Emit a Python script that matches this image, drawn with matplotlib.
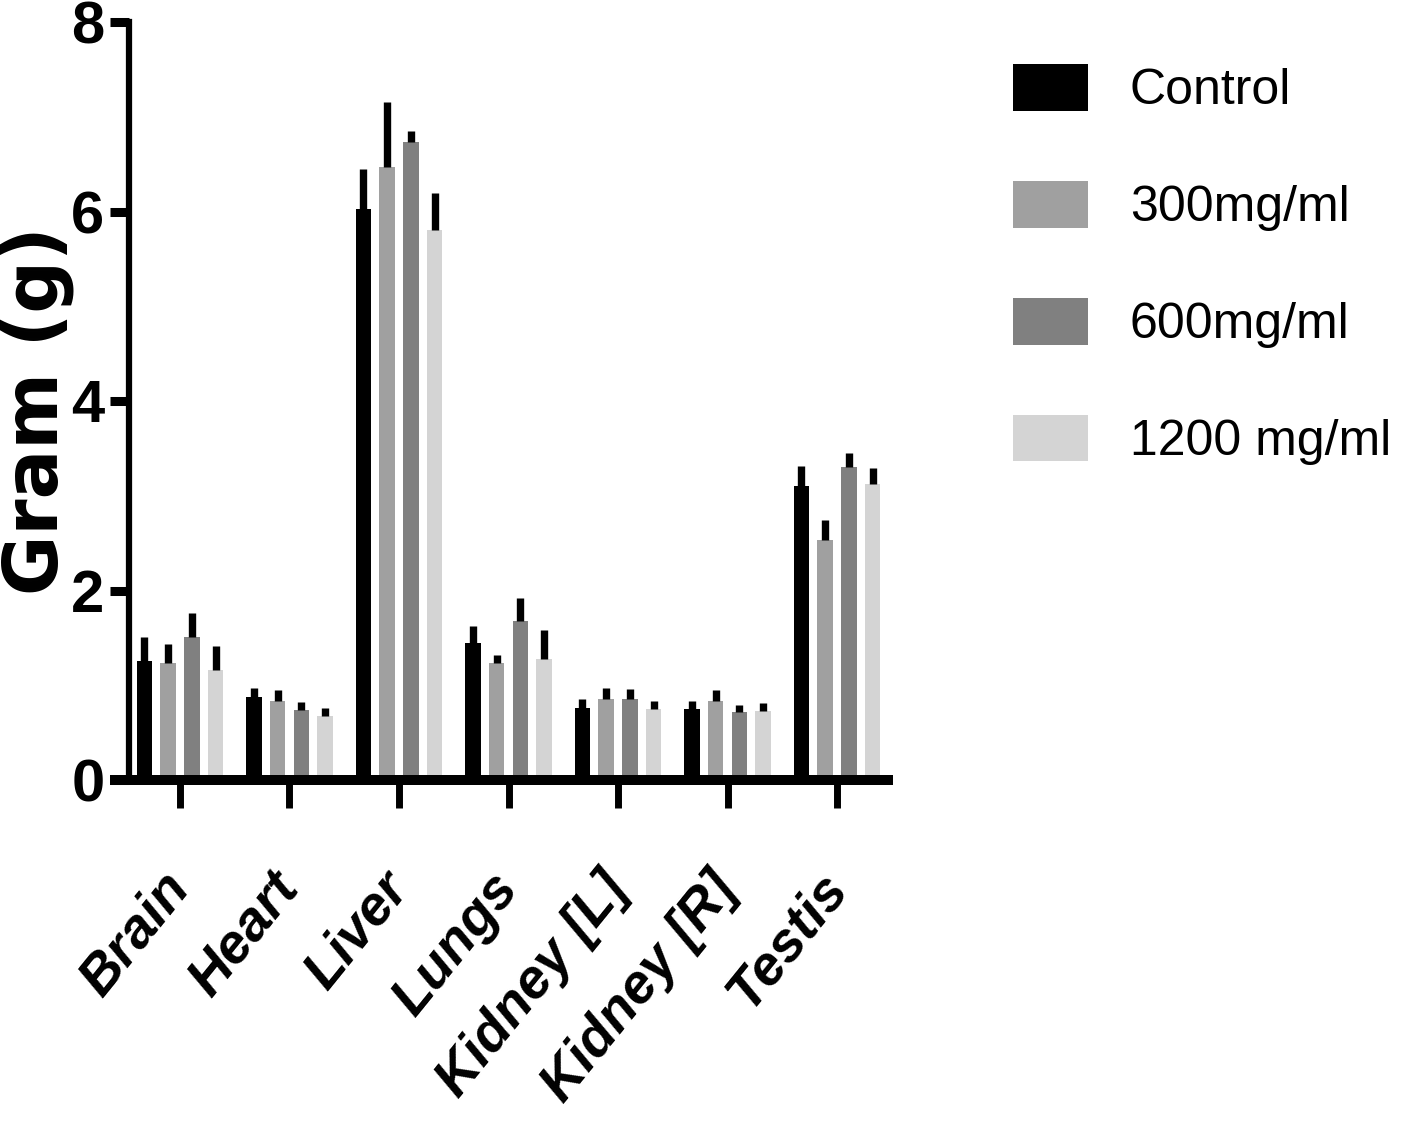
import matplotlib
matplotlib.use('Agg')
import matplotlib.pyplot as plt
from matplotlib import font_manager
import numpy as np

# Organ weights (g), mean bars with upper error bars
organs = ['Brain', 'Heart', 'Liver', 'Lungs', 'Kidney [L]', 'Kidney [R]', 'Testis']
groups = ['Control', '300mg/ml', '600mg/ml', '1200 mg/ml']

control = [1.26, 0.88, 6.03, 1.45, 0.76, 0.75, 3.10]
dose_300 = [1.23, 0.83, 6.47, 1.23, 0.85, 0.83, 2.53]
dose_600 = [1.51, 0.74, 6.73, 1.68, 0.85, 0.72, 3.30]
dose_1200 = [1.16, 0.68, 5.80, 1.28, 0.75, 0.73, 3.12]

control_err = [0.25, 0.09, 0.42, 0.18, 0.09, 0.08, 0.21]
dose_300_err = [0.21, 0.12, 0.69, 0.09, 0.12, 0.12, 0.21]
dose_600_err = [0.25, 0.08, 0.12, 0.24, 0.11, 0.07, 0.15]
dose_1200_err = [0.25, 0.08, 0.39, 0.30, 0.08, 0.08, 0.17]

colors = ['#000000', '#a0a0a0', '#808080', '#d4d4d4']


def pick_narrow():
    """Use the narrow Liberation face if it is installed."""
    names = {f.name for f in font_manager.fontManager.ttflist}
    if 'Liberation Sans Narrow' in names:
        return 'Liberation Sans Narrow', True
    return 'Liberation Sans', False


def create_chart():
    narrow, has_narrow = pick_narrow()

    fig = plt.figure(figsize=(14.18, 11.23), dpi=100)
    ax = fig.add_axes([110 / 1418, 1 - 780 / 1123, 783 / 1418, 758 / 1123])

    series = [control, dose_300, dose_600, dose_1200]
    errors = [control_err, dose_300_err, dose_600_err, dose_1200_err]
    x = np.arange(len(organs))
    step = 0.2164
    width = 0.1416

    for i, (vals, errs) in enumerate(zip(series, errors)):
        pos = x + (i - 1.5) * step
        ax.bar(pos, vals, width=width, color=colors[i], label=groups[i], zorder=2)
        ax.errorbar(pos, vals, yerr=[np.zeros(len(vals)), errs], fmt='none',
                    ecolor='black', elinewidth=5.3, capsize=0, zorder=3)

    ax.set_xlim(-0.639, 6.511)
    ax.set_ylim(0, 8)
    ax.set_yticks([0, 2, 4, 6, 8])

    for side in ['top', 'right']:
        ax.spines[side].set_visible(False)
    ax.spines['left'].set_position(('axes', 0.0243))
    ax.spines['left'].set_linewidth(4.5)
    ax.spines['left'].set_capstyle('projecting')
    ax.spines['bottom'].set_linewidth(7.2)
    ax.spines['bottom'].set_capstyle('butt')
    ax.spines['left'].set_zorder(4)
    ax.spines['bottom'].set_zorder(4)

    ax.tick_params(axis='y', direction='out', length=13.7, width=6.5, pad=4)
    ax.tick_params(axis='x', direction='out', length=20, width=5, pad=52)

    tick_size = 48 if has_narrow else 43
    for lab in ax.get_yticklabels():
        lab.set_fontfamily(narrow)
        lab.set_fontweight('bold')
        lab.set_fontsize(tick_size)

    ax.set_xticks(x)
    ax.set_xticklabels(organs, rotation=51, ha='right', va='center',
                       rotation_mode='anchor', fontfamily='Liberation Sans',
                       fontweight='bold', fontstyle='italic', fontsize=40)

    ax.set_ylabel('Gram (g)', fontfamily='DejaVu Sans', fontweight='bold', fontsize=53)
    ax.yaxis.label.set_va('center')
    ax.yaxis.set_label_coords(-0.0932, 0.487)

    leg_size = 46 if has_narrow else 36
    fs_px = leg_size * 100 / 72
    fig.legend(loc='upper left', bbox_to_anchor=(1013 / 1418, 1 - 64 / 1123),
               frameon=False, borderpad=0, borderaxespad=0,
               prop={'family': narrow, 'size': leg_size},
               handlelength=75 / fs_px, handleheight=53 / fs_px,
               handletextpad=42 / fs_px, labelspacing=1.33)

    fig.savefig('out.png', dpi=100)
    plt.close(fig)


if __name__ == "__main__":
    create_chart()
